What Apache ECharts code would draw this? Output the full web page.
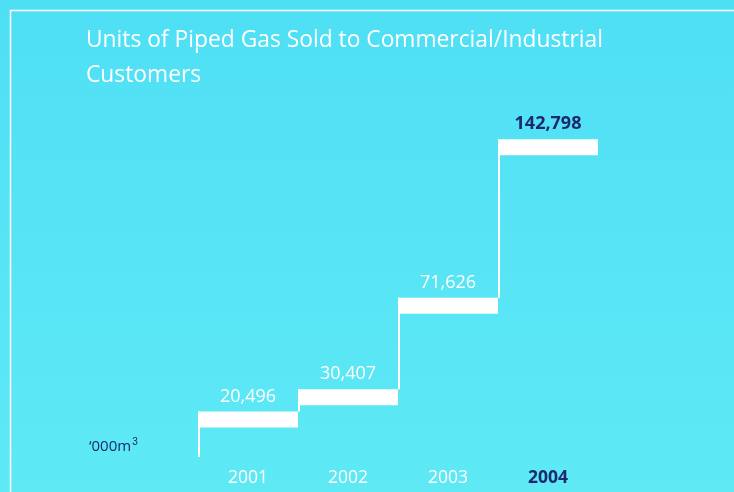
<!DOCTYPE html>
<html>
<head>
<meta charset="utf-8">
<title>Piped gas units</title>
<script src="https://cdn.jsdelivr.net/npm/echarts@6/dist/echarts.min.js"></script>
<style>
  html, body { margin: 0; padding: 0; }
  #chart { width: 734px; height: 492px; }
</style>
</head>
<body>
<div id="chart"></div>
<script>
var years = ['2001', '2002', '2003', '2004'];
var units = [20496, 30407, 71626, 142798];
var labels = ['20,496', '30,407', '71,626', '142,798'];

var navy = '#1b2a6e';
var font = '"Open Sans", "Noto Sans", sans-serif';

var chart = echarts.init(document.getElementById('chart'));

chart.setOption({
  backgroundColor: {
    type: 'linear', x: 0, y: 0, x2: 0, y2: 1,
    colorStops: [
      { offset: 0, color: '#4fdff5' },
      { offset: 1, color: '#5ee9f5' }
    ]
  },
  animation: false,
  title: {
    text: 'Units of Piped Gas Sold to Commercial/Industrial\nCustomers',
    left: 81,
    top: 18,
    textStyle: {
      color: '#fff',
      fontFamily: font,
      fontWeight: 'normal',
      fontSize: 22.8,
      lineHeight: 35
    }
  },
  graphic: [
    {
      type: 'polyline',
      shape: { points: [[10.5, 492], [10.5, 10.5], [734, 10.5]] },
      style: { stroke: '#fff', lineWidth: 1.5, fill: null }
    },
    {
      type: 'text',
      left: 89,
      top: 437,
      style: {
        text: '\u2018000m{s|3}',
        fill: navy,
        font: '15px ' + font,
        rich: {
          s: { fontSize: 10, fill: navy, verticalAlign: 'top', padding: [0, 0, 9, 1] }
        }
      }
    }
  ],
  grid: { left: 198, width: 400, top: 101, height: 356 },
  xAxis: {
    type: 'category',
    data: years.map(function (y, i) {
      return i === years.length - 1
        ? { value: y, textStyle: { color: navy, fontWeight: 'bold' } }
        : y;
    }),
    axisLine: { show: false },
    axisTick: { show: false },
    axisLabel: { color: '#fff', fontSize: 17.5, fontFamily: font, margin: 12 }
  },
  yAxis: {
    type: 'value',
    min: 0,
    max: 160000,
    show: false
  },
  series: [{
    type: 'custom',
    clip: false,
    data: units.map(function (v, i) { return [i, v]; }),
    renderItem: function (params, api) {
      var i = params.dataIndex;
      var prev = i > 0 ? units[i - 1] : 0;
      var top = api.coord([api.value(0), api.value(1)]);
      var base = api.coord([api.value(0), prev]);
      var band = api.size([1, 0])[0];
      var x0 = top[0] - band / 2;
      var last = i === units.length - 1;
      return {
        type: 'group',
        children: [
          {
            type: 'rect',
            shape: { x: x0, y: top[1], width: band, height: 16 },
            style: { fill: '#fff' }
          },
          {
            type: 'line',
            shape: { x1: x0 + 1, y1: base[1], x2: x0 + 1, y2: top[1] },
            style: { stroke: '#fff', lineWidth: 2 }
          },
          {
            type: 'text',
            style: {
              text: labels[i],
              x: top[0],
              y: top[1] - 15,
              align: 'center',
              verticalAlign: 'middle',
              fill: last ? navy : '#fff',
              font: (last ? 'bold ' : '') + '18px ' + font
            }
          }
        ]
      };
    }
  }]
});
</script>
</body>
</html>
